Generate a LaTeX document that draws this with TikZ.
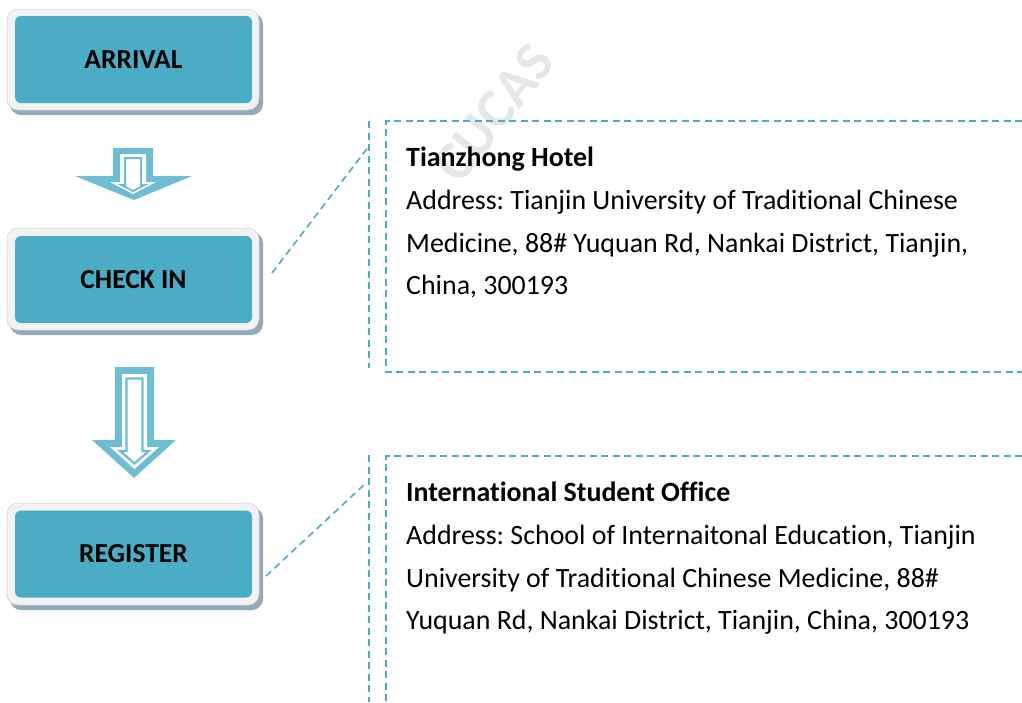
\documentclass[tikz,border=0pt]{standalone}
\usepackage{fontspec}
\setmainfont{Carlito}[Ligatures={NoCommon}]
\frenchspacing
\definecolor{teal}{HTML}{4BACC6}
\definecolor{arrowc}{HTML}{6FBDD2}
\definecolor{frame}{HTML}{F2F2F2}
\definecolor{shadowc}{HTML}{93ABB6}
\definecolor{wm}{HTML}{E6E6E6}
\begin{document}
\begin{tikzpicture}[x=1pt,y=-1pt,
  frameshape/.style={fill=frame,draw=frame!85!black,line width=0.5pt,rounded corners=11pt},
  shadowshape/.style={fill=shadowc,rounded corners=11pt},
  stepbox/.style={fill=teal,rounded corners=6pt,minimum width=237pt,minimum height=87pt,inner sep=0pt,font=\fontsize{27.5}{32}\selectfont\bfseries,text=black},
  dashline/.style={draw=teal,line width=1.6pt,dash pattern=on 7pt off 4.5pt},
  info/.style={anchor=base west,inner sep=0pt,font=\fontsize{27.9}{32}\selectfont},
  infohead/.style={info,font=\fontsize{27.9}{32}\selectfont\bfseries},
  watermark/.style={text=wm,font=\fontsize{56}{60}\selectfont\bfseries,rotate=52}]
\useasboundingbox (0,0) rectangle (1022,702);
\clip (0,0) rectangle (1022,702);
% watermark
\node[watermark] (wm1) at (494,113) {CUCAS};
% boxes
\foreach \yt/\yb in {9/110, 228/330, 503/605}{
  \path[shadowshape] (10,\yt+4) rectangle (263,\yb+5);
  \path[frameshape] (7,\yt) rectangle (259,\yb);
}
\node[stepbox] (arrival) at (133.5,59.5) {ARRIVAL};
\node[stepbox] (checkin) at (133.5,279.5) {CHECK IN};
\node[stepbox] (register) at (133.5,554) {REGISTER};
% arrow 1
\fill[arrowc] (113,148) -- (153,148) -- (153,176) -- (192,176) -- (134,200) -- (75,176) -- (113,176) -- cycle;
\fill[white] (120,154) -- (146,154) -- (146,182) -- (156,182) -- (133,194) -- (110,182) -- (120,182) -- cycle;
\draw[arrowc,line width=2pt] (125,158) -- (141,158) -- (141,185) -- (145,185) -- (133,191) -- (121,185) -- (125,185) -- cycle;
% arrow 2
\fill[arrowc] (115,367) -- (154,367) -- (154,440) -- (176,440) -- (134,478) -- (92,440) -- (115,440) -- cycle;
\fill[white] (122,374) -- (147,374) -- (147,447) -- (159,447) -- (134.5,469) -- (110,447) -- (122,447) -- cycle;
\draw[arrowc,line width=2.2pt] (126.5,378.5) -- (142.5,378.5) -- (142.5,451) -- (149,451) -- (134.5,463.5) -- (120,451) -- (126.5,451) -- cycle;
% callout 1
\coordinate (c1a) at (369,121);
\coordinate (c1b) at (369,368);
\coordinate (c1m) at (369,146);
\coordinate (c1s) at (272,273);
\coordinate (b1tr) at (1022,121);
\coordinate (b1tl) at (386,121);
\coordinate (b1bl) at (386,372);
\coordinate (b1br) at (1022,372);
\draw[dashline] (c1a) -- (c1b);
\draw[dashline] (b1tr) -- (b1tl) -- (b1bl) -- (b1br);
\draw[dashline] (c1s) -- (c1m);
\node[infohead] (h1) at (406,166) {Tianzhong Hotel};
\node[info] (l11) at (406,209) {Address: Tianjin University of Traditional Chinese};
\node[info] (l12) at (406,252) {Medicine, 88\# Yuquan Rd, Nankai District, Tianjin,};
\node[info] (l13) at (406,294) {China, 300193};
% callout 2
\coordinate (c2a) at (369,455);
\coordinate (c2b) at (369,702);
\coordinate (c2m) at (366,483);
\coordinate (c2s) at (266,576);
\coordinate (b2tr) at (1022,456);
\coordinate (b2tl) at (386,456);
\coordinate (b2bl) at (386,702);
\draw[dashline] (c2a) -- (c2b);
\draw[dashline] (b2tr) -- (b2tl) -- (b2bl);
\draw[dashline] (c2s) -- (c2m);
\node[infohead] (h2) at (406,501) {International Student Office};
\node[info] (l21) at (406,544) {Address: School of Internaitonal Education, Tianjin};
\node[info] (l22) at (406,587) {University of Traditional Chinese Medicine, 88\#};
\node[info] (l23) at (406,629) {Yuquan Rd, Nankai District, Tianjin, China, 300193};
\end{tikzpicture}
\end{document}
